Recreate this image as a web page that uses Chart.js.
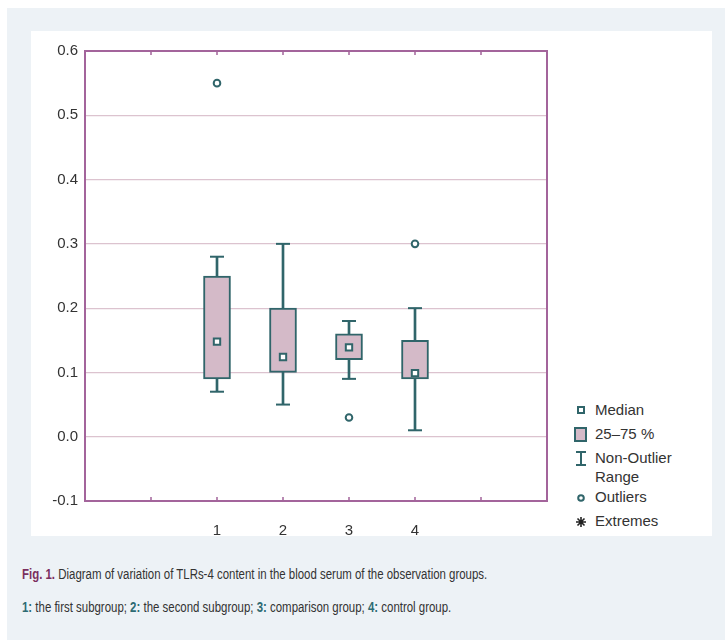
<!DOCTYPE html>
<html lang='en'>

<head>
  <meta charset='UTF-8'>
  <title>TLRs-4 content, box plot</title>
  <script src="https://cdn.jsdelivr.net/npm/chart.js@4.4.1/dist/chart.umd.min.js"></script>
  <style>
    html, body {
      margin: 0;
      padding: 0;
      background: #fff;
      font-family: "Liberation Sans", Arial, sans-serif;
      color: #333;
    }

    #frame {
      position: absolute;
      left: 7px;
      top: 8px;
      width: 718px;
      height: 632px;
      background: #edf2f6;
    }

    #panel {
      position: absolute;
      left: 24px;
      top: 23px;
      width: 681px;
      height: 505px;
      background: #fff;
    }

    #chart {
      position: absolute;
      left: 0;
      top: 0;
    }

    #legend {
      position: absolute;
      left: 540px;
      top: 369px;
      font-size: 15px;
      line-height: 19px;
    }

    #legend .item {
      position: relative;
      padding-left: 24px;
      margin-bottom: 5px;
    }

    #legend .item.two {
      margin-bottom: 1px;
    }

    #legend svg {
      position: absolute;
      left: 3px;
      top: 3px;
    }

    /* the original caption is set in a narrow face, squeeze the regular one */
    .caption {
      position: absolute;
      left: 15px;
      font-size: 15.5px;
      white-space: nowrap;
      transform: scaleX(0.738);
      transform-origin: left center;
    }

    .fig { color: #7b2f5e; font-weight: bold; }
    .num { color: #2d6b73; font-weight: bold; }
  </style>
</head>

<body>
<div id="frame">
  <div id="panel">
    <canvas id="chart" width="530" height="505"></canvas>
    <div id="legend">
      <div class="item">
        <svg width="14" height="14"><rect x="4" y="4" width="6" height="6" fill="#fff" stroke="#30656a" stroke-width="2"/></svg>
        Median
      </div>
      <div class="item">
        <svg width="14" height="16"><rect x="1" y="1" width="11" height="13" fill="#d4bac8" stroke="#30656a" stroke-width="2"/></svg>
        25–75 %
      </div>
      <div class="item two">
        <svg width="14" height="16"><path d="M2 1H12M7 1V14M2 14H12" fill="none" stroke="#30656a" stroke-width="2"/></svg>
        Non-Outlier<br>Range
      </div>
      <div class="item">
        <svg width="14" height="14"><circle cx="7" cy="8" r="2.8" fill="#fff" stroke="#30656a" stroke-width="2"/></svg>
        Outliers
      </div>
      <div class="item">
        <svg width="14" height="14"><path d="M7 3V13M2 8H12M3.5 4.5L10.5 11.5M10.5 4.5L3.5 11.5" fill="none" stroke="#222" stroke-width="1.6"/></svg>
        Extremes
      </div>
    </div>
  </div>
  <div class="caption" style="top: 557px;"><span class="fig">Fig. 1.</span> Diagram of variation of TLRs-4 content in the blood serum of the observation groups.</div>
  <div class="caption" style="top: 590px;"><span class="num">1:</span> the first subgroup; <span class="num">2:</span> the second subgroup; <span class="num">3:</span> comparison group; <span class="num">4:</span> control group.</div>
</div>

<script>
  // groups on the x axis
  const categories = ['1', '2', '3', '4'];
  // non-outlier range
  const whiskerLow = [0.07, 0.05, 0.09, 0.01];
  const whiskerHigh = [0.28, 0.30, 0.18, 0.20];
  // 25-75 %
  const q1 = [0.09, 0.10, 0.12, 0.09];
  const q3 = [0.25, 0.20, 0.16, 0.15];
  const medians = [0.148, 0.124, 0.139, 0.099];
  const outliers = [0.55, null, 0.03, 0.30];
  const yTicks = [-0.1, 0.0, 0.1, 0.2, 0.3, 0.4, 0.5, 0.6];

  const teal = '#30656a';
  const axisColor = '#a3649b';

  // two empty slots on the left, two on the right, like the original axis
  const pad = (arr) => [null, null, ...arr, null, null];
  const labels = pad(categories).map(c => c === null ? '' : c);

  // border round the plot + little inward ticks on top/bottom
  const frame = {
    id: 'frame',
    beforeDatasetsDraw(chart) {
      const {ctx, chartArea: a, scales: {x}} = chart;
      ctx.save();
      ctx.strokeStyle = axisColor;
      ctx.lineWidth = 2;
      ctx.strokeRect(a.left, a.top, a.right - a.left, a.bottom - a.top);
      ctx.lineWidth = 1.5;
      ctx.beginPath();
      for (let i = 1; i < labels.length - 1; i++) {
        const px = x.getPixelForTick(i);
        ctx.moveTo(px, a.top);
        ctx.lineTo(px, a.top + 4);
        ctx.moveTo(px, a.bottom);
        ctx.lineTo(px, a.bottom - 4);
      }
      ctx.stroke();
      ctx.restore();
    }
  };

  const points = (data, extra) => Object.assign({
    type: 'line',
    data: pad(data),
    showLine: false,
    borderColor: teal,
    backgroundColor: '#fff',
    pointBorderColor: teal,
    pointBackgroundColor: '#fff',
    order: 0
  }, extra);

  new Chart(document.getElementById('chart'), {
    data: {
      labels: labels,
      datasets: [
        points(medians, {pointStyle: 'rect', pointRadius: 4.5, pointBorderWidth: 2}),
        points(outliers, {pointStyle: 'circle', pointRadius: 3.3, pointBorderWidth: 2}),
        {
          type: 'bar',
          data: pad(q1.map((v, i) => [v, q3[i]])),
          backgroundColor: '#d4bac8',
          borderColor: teal,
          borderWidth: 2,
          borderSkipped: false,
          barThickness: 27,
          grouped: false,
          order: 1
        },
        points(whiskerLow, {pointStyle: 'line', pointRadius: 7, pointBorderWidth: 2, order: 2}),
        points(whiskerHigh, {pointStyle: 'line', pointRadius: 7, pointBorderWidth: 2, order: 2}),
        {
          type: 'bar',
          data: pad(whiskerLow.map((v, i) => [v, whiskerHigh[i]])),
          backgroundColor: teal,
          borderWidth: 0,
          barThickness: 2,
          grouped: false,
          order: 3
        }
      ]
    },
    options: {
      responsive: false,
      animation: false,
      events: [],
      layout: {padding: {top: 20, right: 14, left: 0, bottom: 0}},
      plugins: {legend: {display: false}, tooltip: {enabled: false}},
      scales: {
        x: {
          type: 'category',
          offset: false,
          grid: {display: false},
          border: {display: false},
          afterFit: (s) => { s.height = 35; },
          ticks: {
            color: '#333',
            font: {family: '"Liberation Sans", Arial, sans-serif', size: 15},
            padding: 13,
            autoSkip: false,
            maxRotation: 0
          }
        },
        y: {
          min: -0.1,
          max: 0.6,
          afterFit: (s) => { s.width = 54; },
          afterBuildTicks: (s) => { s.ticks = yTicks.map(v => ({value: v})); },
          grid: {color: '#dcc3cf', lineWidth: 1.2, drawTicks: false},
          border: {display: false},
          ticks: {
            color: '#333',
            font: {family: '"Liberation Sans", Arial, sans-serif', size: 15},
            padding: 7,
            callback: (v) => v.toFixed(1)
          }
        }
      }
    },
    plugins: [frame]
  });
</script>
</body>

</html>
